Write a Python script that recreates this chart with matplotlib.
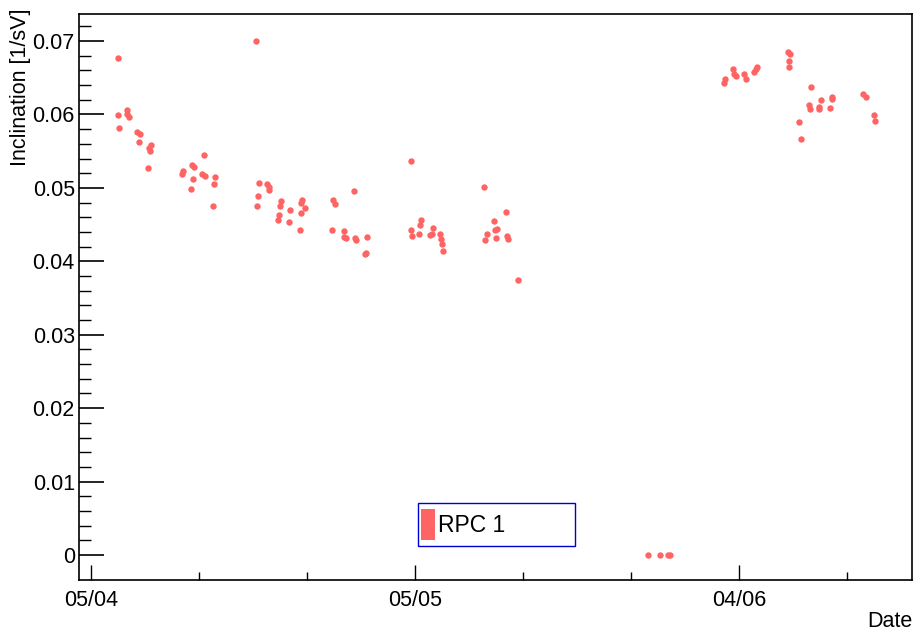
import matplotlib
matplotlib.use("Agg")
import matplotlib.pyplot as plt
from matplotlib.patches import Rectangle
import numpy as np

# days since 05/04 and inclination values of RPC 1
days = [2.47, 2.53, 2.62, 3.36, 3.31, 3.55, 4.29, 4.51, 4.44, 5.53, 5.37, 5.46, 5.31,
        8.52, 8.45, 9.38, 9.54, 9.44, 9.29, 10.46, 10.31, 10.58, 11.48, 11.39, 11.27,
        15.31, 15.56, 15.44, 15.37, 16.32, 16.51, 16.44, 17.56, 17.47, 18.40, 17.38, 17.31,
        18.33, 19.54, 19.47, 19.79, 19.42, 19.32, 22.41, 22.59, 24.32, 22.34, 23.40, 23.45,
        23.64, 24.44, 24.56, 25.56, 25.37, 25.49,
        29.60, 30.58, 30.49, 29.63, 29.75, 30.34, 31.64, 31.57, 31.39, 32.34, 32.44, 32.53,
        32.59, 36.39, 38.40, 37.34, 37.44, 37.59, 36.67, 36.48, 37.53, 38.49, 38.61, 39.56,
        51.55, 52.66, 53.45, 53.64,
        58.70, 58.61, 59.44, 59.54, 59.69, 60.44, 60.68, 61.42, 61.55, 61.64,
        64.51, 64.75, 64.66, 64.60, 66.67, 65.58, 65.77, 66.45, 66.60, 67.59, 67.44, 67.41,
        68.64, 68.64, 68.45, 71.51, 71.73, 72.50, 72.62]
incl = [0.06773, 0.05996, 0.05811, 0.06060, 0.06002, 0.05961, 0.05761, 0.05734, 0.05625,
        0.05580, 0.05547, 0.05506, 0.05267,
        0.05226, 0.05185, 0.05307, 0.05280, 0.05117, 0.04985, 0.05444, 0.05189, 0.05162,
        0.05148, 0.05057, 0.04753,
        0.06996, 0.05070, 0.04893, 0.04753, 0.05057, 0.04971, 0.05012, 0.04821, 0.04757,
        0.04703, 0.04635, 0.04567, 0.04539, 0.04835, 0.04794, 0.04730, 0.04658, 0.04425,
        0.04839, 0.04776, 0.04961, 0.04422, 0.04417, 0.04327, 0.04313, 0.04313, 0.04290,
        0.04327, 0.04100, 0.04117,
        0.05370, 0.04562, 0.04490, 0.04422, 0.04340, 0.04368, 0.04458, 0.04372, 0.04354,
        0.04372, 0.04304, 0.04231, 0.04144, 0.05016, 0.04667, 0.04545, 0.04426, 0.04436,
        0.04376, 0.04294, 0.04321, 0.04340, 0.04300, 0.03745,
        0.0, 0.0, 0.0, 0.0,
        0.06483, 0.06428, 0.06615, 0.06555, 0.06524, 0.06547, 0.06483, 0.06574, 0.06615,
        0.06642,
        0.06855, 0.06823, 0.06732, 0.06642, 0.06370, 0.05901, 0.05661, 0.06133, 0.06070,
        0.06201, 0.06106, 0.06074, 0.06238, 0.06214, 0.06088, 0.06274, 0.06233, 0.05988,
        0.05911]

tick_days = [0, 30, 60]
tick_labels = ["05/04", "05/05", "04/06"]
series_name = "RPC 1"
color = "#ff6464"

plt.rcParams['font.family'] = ['Liberation Sans', 'DejaVu Sans']

fig = plt.figure(figsize=(9.16, 6.33), dpi=100)
ax = fig.add_axes([0.0862, 0.0837, 0.9094, 0.8942])

ax.plot(days, incl, linestyle="none", marker="o", markersize=4.6,
        markerfacecolor=color, markeredgecolor=color, markeredgewidth=0)

ax.set_xlim(-1.11, 76.02)
ax.set_ylim(-0.0034, 0.07368)

ax.set_xticks(tick_days)
ax.set_xticklabels(tick_labels)
ax.set_xticks(np.arange(-0, 76, 10), minor=True)
ax.set_yticks(np.arange(0, 0.0701, 0.01))
ax.set_yticklabels(["0"] + ["%.2f" % v for v in np.arange(0.01, 0.0701, 0.01)])
ax.set_yticks(np.arange(0, 0.0737, 0.002), minor=True)

ax.tick_params(axis="y", which="major", direction="in", length=18, width=1.2,
               labelsize=15.5, pad=3)
ax.tick_params(axis="y", which="minor", direction="in", length=8.6, width=1)
ax.tick_params(axis="x", which="major", direction="in", length=11, width=1,
               labelsize=15.5, pad=7)
ax.tick_params(axis="x", which="minor", direction="in", length=5.5, width=1)
for sp in ax.spines.values():
    sp.set_linewidth(1.2)

fig.text(0.022, 0.986, "Inclination [1/sV]", rotation=90, ha="center", va="top",
         fontsize=15.5)
fig.text(0.996, 0.002, "Date", ha="right", va="bottom", fontsize=15.5)

# legend box
fig.patches.append(Rectangle((0.4563, 0.1374), 0.1714, 0.068, transform=fig.transFigure,
                             facecolor="white", edgecolor="#0000cc", linewidth=1))
fig.patches.append(Rectangle((0.4596, 0.1469), 0.0153, 0.049, transform=fig.transFigure,
                             facecolor=color, edgecolor="none"))
fig.text(0.478, 0.1706, series_name, ha="left", va="center", fontsize=16.5)

plt.savefig("out.png", dpi=100)
